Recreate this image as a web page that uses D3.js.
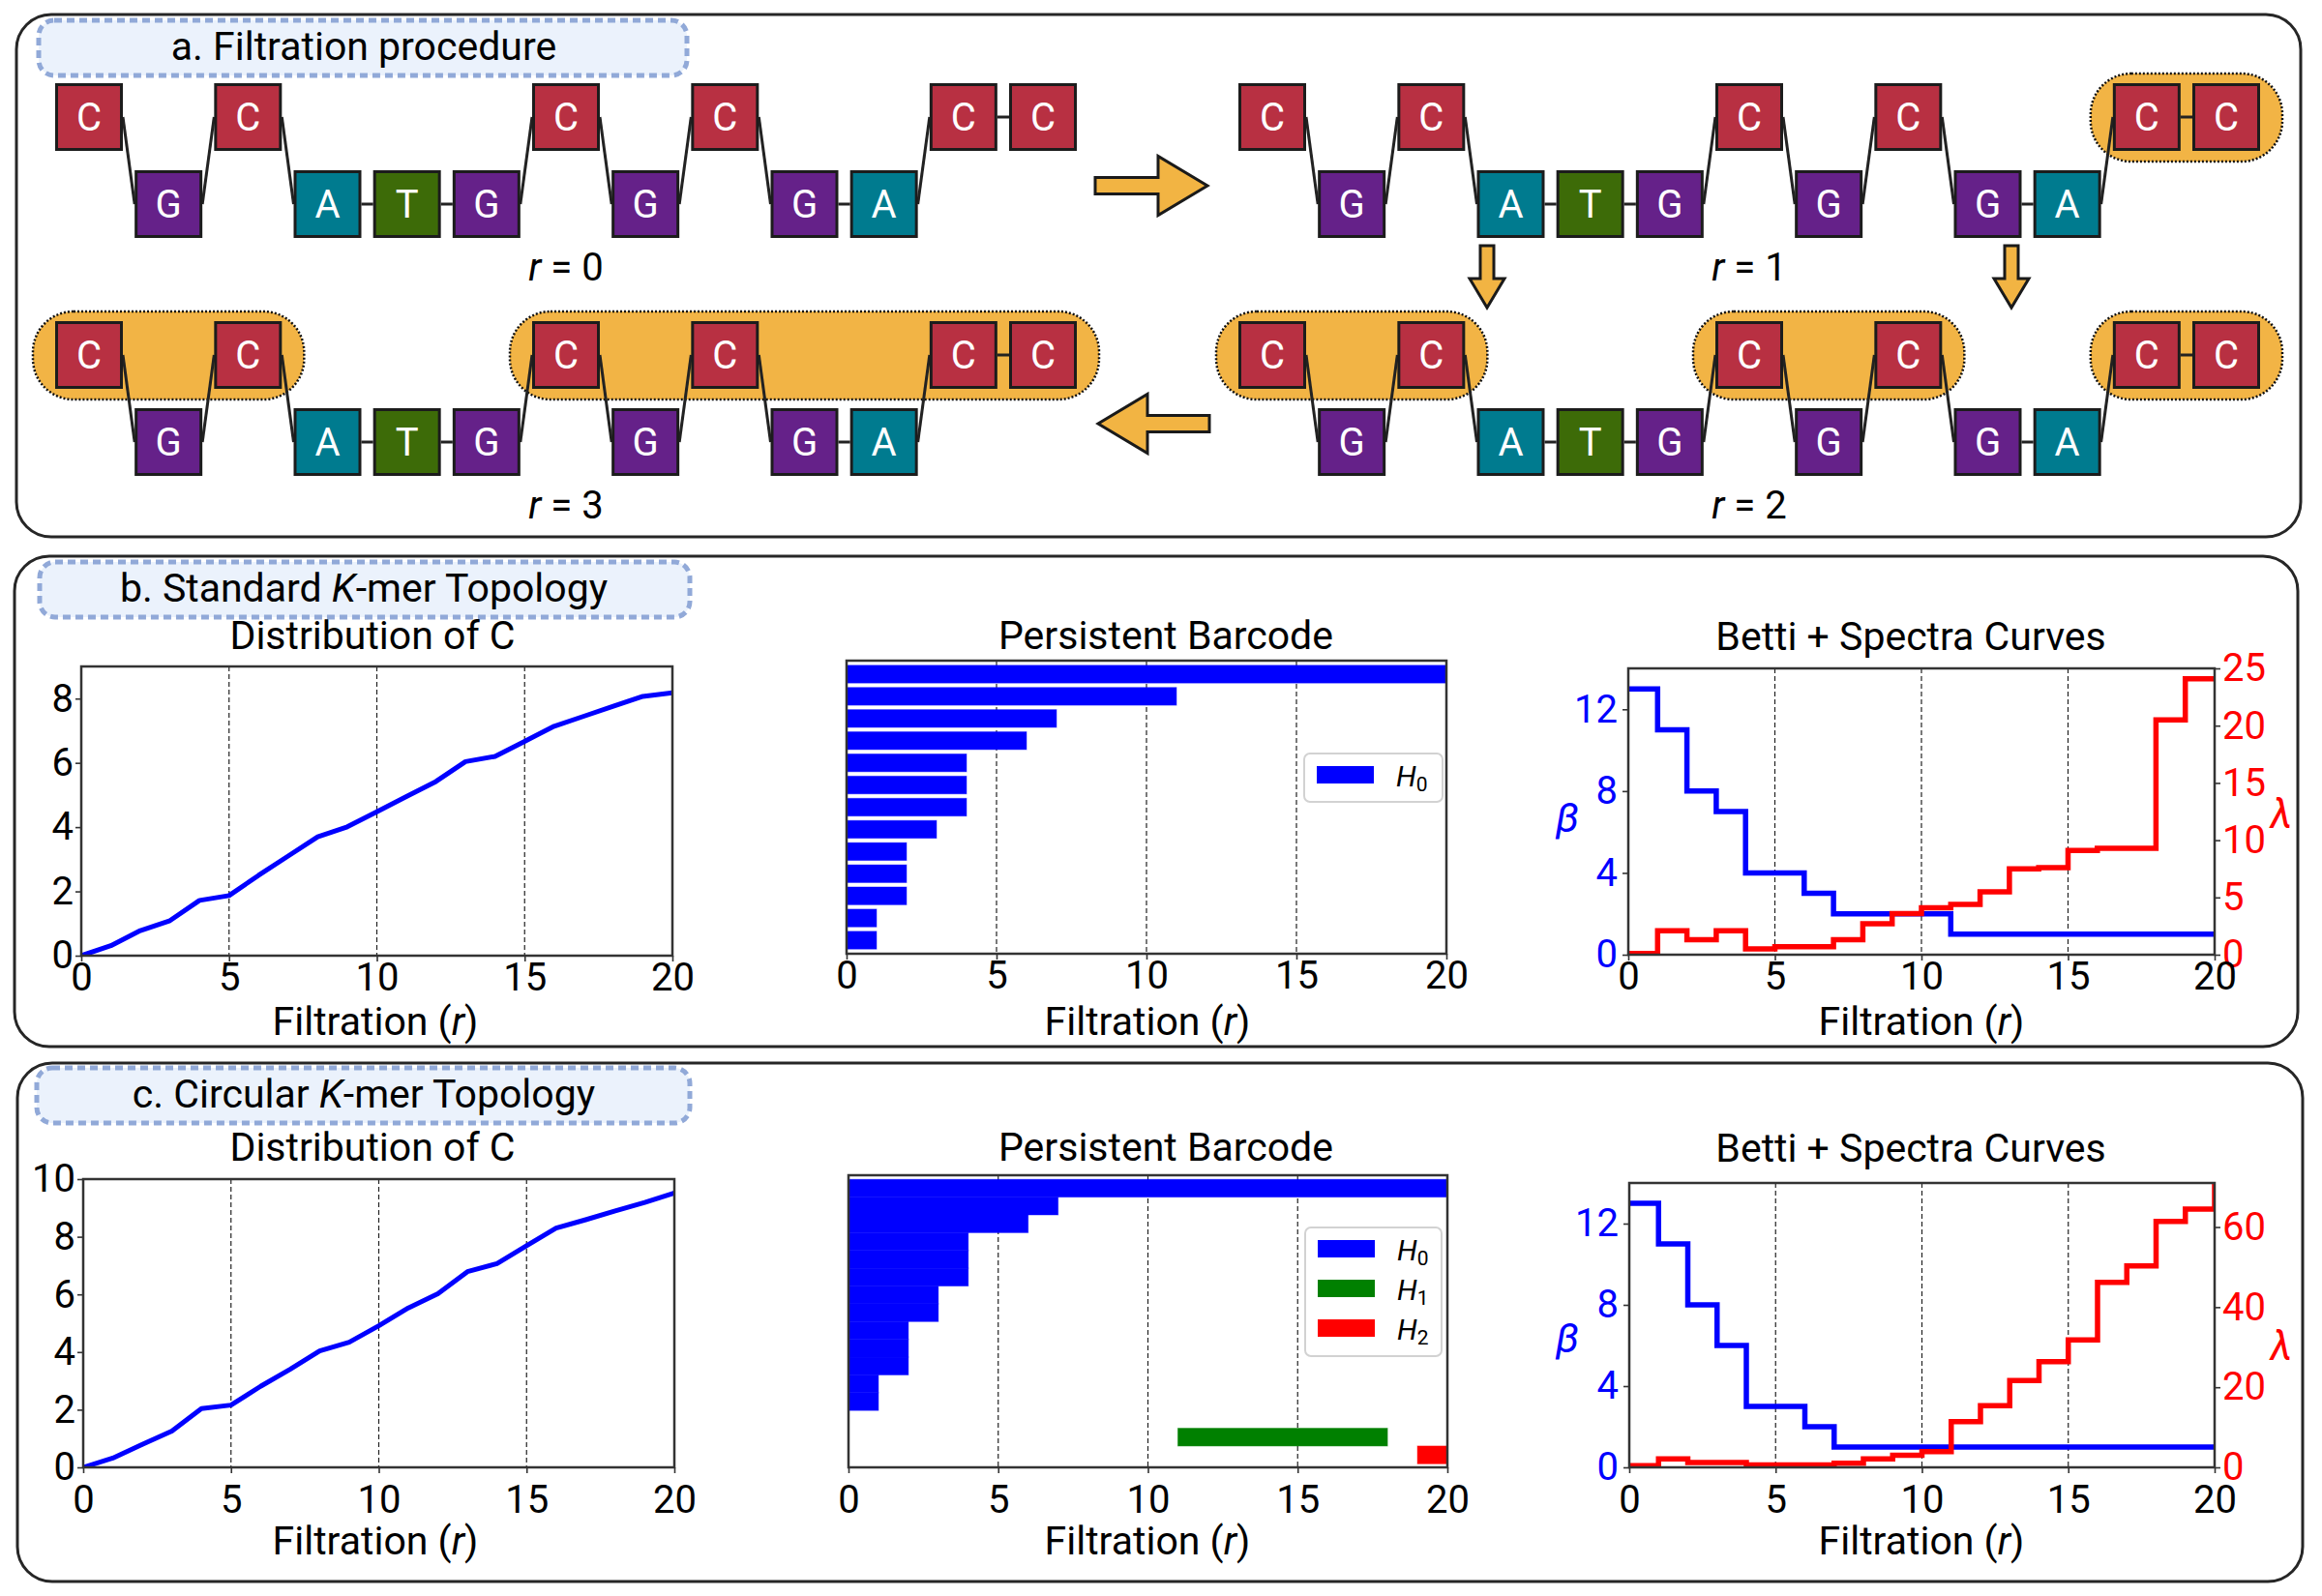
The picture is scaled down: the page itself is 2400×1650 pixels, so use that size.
<!DOCTYPE html>
<html>
<head>
<meta charset="utf-8">
<script src="https://cdn.jsdelivr.net/npm/d3@7"></script>
<style>
  body { margin: 0; background: #fff; }
  text { font-family: Roboto, "Noto Sans", sans-serif; }
</style>
</head>
<body>
<svg id="fig" width="2400" height="1650" viewBox="0 0 2400 1650"></svg>
<script>
// ---- data ----
const sequence = ["C", "G", "C", "A", "T", "G", "C", "G", "C", "G", "A", "C", "C"];
const baseColors = {C: "#b83042", G: "#652189", A: "#007b8f", T: "#3d6b08"};
const stageR = [0, 1, 2, 3];
// merged C-groups (first, last index in sequence) at each filtration step
const stageClusters = [[], [[11, 12]], [[0, 2], [6, 8], [11, 12]], [[0, 2], [6, 12]]];

const filtration = [0, 1, 2, 3, 4, 5, 6, 7, 8, 9, 10, 11, 12, 13, 14, 15, 16, 17, 18, 19, 20];
const xTicks = [0, 5, 10, 15, 20];

const distStandard = [0, 0.31, 0.78, 1.09, 1.72, 1.87, 2.5, 3.1, 3.7, 4.01, 4.48, 4.95, 5.42, 6.04, 6.2, 6.67, 7.14, 7.45, 7.76, 8.07, 8.18];
const distCircular = [0, 0.32, 0.8, 1.26, 2.04, 2.16, 2.81, 3.4, 4.04, 4.34, 4.91, 5.53, 6.02, 6.79, 7.07, 7.69, 8.3, 8.59, 8.9, 9.19, 9.52];

// barcode rows: [dimension, birth, death]; null = empty row
const barcodeStandard = [[0, 0, 20], [0, 0, 11], [0, 0, 7], [0, 0, 6], [0, 0, 4], [0, 0, 4], [0, 0, 4],
  [0, 0, 3], [0, 0, 2], [0, 0, 2], [0, 0, 2], [0, 0, 1], [0, 0, 1]];
const barcodeCircular = [[0, 0, 20], [0, 0, 7], [0, 0, 6], [0, 0, 4], [0, 0, 4], [0, 0, 4], [0, 0, 3],
  [0, 0, 3], [0, 0, 2], [0, 0, 2], [0, 0, 2], [0, 0, 1], [0, 0, 1], null, [1, 11, 18], [2, 19, 20]];
const dimColors = ["#0000ff", "#008000", "#ff0000"];

const bettiStandard = [13, 11, 8, 7, 4, 4, 3, 2, 2, 2, 2, 1, 1, 1, 1, 1, 1, 1, 1, 1, 1];
const spectraStandard = [0.1, 2.1, 1.3, 2.1, 0.5, 0.7, 0.7, 1.3, 2.7, 3.6, 4.1, 4.4, 5.5, 7.5, 7.6, 9.1, 9.3, 9.3, 20.5, 24.1, 24.1];
const bettiCircular = [13, 11, 8, 6, 3, 3, 2, 1, 1, 1, 1, 1, 1, 1, 1, 1, 1, 1, 1, 1, 1];
const spectraCircular = [0.4, 2.1, 1.2, 1.2, 0.6, 0.6, 0.6, 1.0, 2.1, 3.0, 3.9, 11.4, 15.4, 21.7, 26.4, 31.8, 46.2, 50.3, 61.4, 64.5, 71];

// ---- drawing ----
const svg = d3.select("#fig");
const defs = svg.append("defs");

function panel(x, y, w, h, box, titleParts, baseline) {
  svg.append("rect").attr("x", x).attr("y", y).attr("width", w).attr("height", h)
    .attr("rx", 36).attr("fill", "none").attr("stroke", "#262626").attr("stroke-width", 3);
  svg.append("rect").attr("x", box[0]).attr("y", box[1]).attr("width", box[2]).attr("height", box[3])
    .attr("rx", 16).attr("fill", "#ebf2fc").attr("stroke", "#91a9d8")
    .attr("stroke-width", 5).attr("stroke-dasharray", "8,5");
  const t = svg.append("text").attr("x", 376).attr("y", baseline)
    .attr("text-anchor", "middle").attr("font-size", 41);
  titleParts.forEach(p => t.append("tspan").attr("font-style", p[1] ? "italic" : "normal").text(p[0]));
}

panel(17, 15, 2361, 540, [40, 21, 670, 57], [["a. Filtration procedure", false]], 62);
panel(15, 575, 2360, 507, [41, 581, 672, 57], [["b. Standard ", false], ["K", true], ["-mer Topology", false]], 622);
panel(18, 1099, 2362, 536, [38, 1104, 675, 57], [["c. Circular ", false], ["K", true], ["-mer Topology", false]], 1145);

// ---- panel a: filtration procedure ----
const blockSize = 70;
const posX = d3.scalePoint().domain(d3.range(sequence.length)).range([57, 1043]);
const rowY = b => b === "C" ? 86 : 176;
const stageOffset = [[0, 0], [1223, 0], [1223, 246], [0, 246]];

stageR.forEach((r, s) => {
  const [dx, dy] = stageOffset[s];
  const g = svg.append("g").attr("transform", `translate(${dx},${dy})`);

  g.selectAll("rect.pill").data(stageClusters[s]).enter().append("rect")
    .attr("x", d => posX(d[0]) - 23)
    .attr("y", 76)
    .attr("width", d => posX(d[1]) - posX(d[0]) + blockSize + 46)
    .attr("height", 91)
    .attr("rx", 42)
    .attr("fill", "#f2b445").attr("stroke", "#111").attr("stroke-width", 2.5)
    .attr("stroke-dasharray", "2,2");

  const links = d3.range(sequence.length - 1);
  g.selectAll("line.link").data(links).enter().append("line")
    .attr("x1", i => posX(i) + blockSize).attr("y1", i => rowY(sequence[i]) + blockSize / 2)
    .attr("x2", i => posX(i + 1)).attr("y2", i => rowY(sequence[i + 1]) + blockSize / 2)
    .attr("stroke", "#222").attr("stroke-width", 3);

  const blk = g.selectAll("g.blk").data(sequence).enter().append("g")
    .attr("transform", (b, i) => `translate(${posX(i)},${rowY(b)})`);
  blk.append("rect").attr("x", 1.5).attr("y", 1.5).attr("width", blockSize - 3).attr("height", blockSize - 3)
    .attr("fill", b => baseColors[b]).attr("stroke", "#1c1c1c").attr("stroke-width", 3);
  blk.append("text").attr("x", blockSize / 2).attr("y", blockSize / 2).attr("dy", "0.36em")
    .attr("text-anchor", "middle").attr("font-size", 40).attr("fill", "#fff").text(b => b);

  const lab = g.append("text").attr("x", posX(6) + blockSize / 2).attr("y", 290)
    .attr("text-anchor", "middle").attr("font-size", 40);
  lab.append("tspan").attr("font-style", "italic").text("r");
  lab.append("tspan").text(" = " + r);
});

function arrow(x, y, angle, L, sw, hl, hw) {
  const p = `M0,${-sw}L${L - hl},${-sw}L${L - hl},${-hw}L${L},0L${L - hl},${hw}L${L - hl},${sw}L0,${sw}Z`;
  svg.append("path").attr("d", p).attr("transform", `translate(${x},${y}) rotate(${angle})`)
    .attr("fill", "#f2b443").attr("stroke", "#1a1a1a").attr("stroke-width", 3);
}
arrow(1132, 192, 0, 116, 8.5, 51, 30.5);
arrow(1250, 438, 180, 115, 8.5, 51, 30.5);
arrow(1537, 254, 90, 64, 7, 30, 18);
arrow(2079, 254, 90, 64, 7, 30, 18);

// ---- chart helpers ----
const cols = [385, 1205, 1975];
const xLabelCols = [388, 1186, 1986];

function frameAndGrid(g, f, x, clipId) {
  g.selectAll("line.grid").data([5, 10, 15]).enter().append("line")
    .attr("x1", d => x(d)).attr("x2", d => x(d)).attr("y1", f.y).attr("y2", f.y + f.h)
    .attr("stroke", "#222").attr("stroke-width", 1.2).attr("stroke-dasharray", "5,3");
  defs.append("clipPath").attr("id", clipId).append("rect")
    .attr("x", f.x).attr("y", f.y).attr("width", f.w).attr("height", f.h);
}

function frameBorder(g, f) {
  g.append("rect").attr("x", f.x).attr("y", f.y).attr("width", f.w).attr("height", f.h)
    .attr("fill", "none").attr("stroke", "#333").attr("stroke-width", 2.5);
}

function styleAxis(a, color) {
  a.attr("font-size", 40).attr("font-family", "Roboto, sans-serif");
  a.select(".domain").remove();
  a.selectAll("line").attr("stroke", "#333").attr("stroke-width", 1.6);
  a.selectAll("text").attr("fill", color);
}

function xAxisAndLabels(g, f, x, col, titleY, xLabelY, pad, title) {
  g.append("g").attr("transform", `translate(0,${f.y + f.h})`)
    .call(d3.axisBottom(x).tickValues(xTicks).tickSize(6).tickPadding(pad))
    .call(a => styleAxis(a, "#000"));
  g.append("text").attr("x", cols[col]).attr("y", titleY).attr("text-anchor", "middle")
    .attr("font-size", 41).text(title);
  const xl = g.append("text").attr("x", xLabelCols[col]).attr("y", xLabelY).attr("text-anchor", "middle")
    .attr("font-size", 41);
  xl.append("tspan").text("Filtration (");
  xl.append("tspan").attr("font-style", "italic").text("r");
  xl.append("tspan").text(")");
}

function distChart(f, values, yMax, yTicks, id, titleY, xLabelY, pad) {
  const g = svg.append("g");
  const x = d3.scaleLinear().domain([0, 20]).range([f.x, f.x + f.w]);
  const y = d3.scaleLinear().domain([0, yMax]).range([f.y + f.h, f.y]);
  frameAndGrid(g, f, x, id);
  g.append("path").datum(filtration)
    .attr("d", d3.line().x(d => x(d)).y((d, i) => y(values[i])))
    .attr("fill", "none").attr("stroke", "#0000ff").attr("stroke-width", 5)
    .attr("stroke-linejoin", "round").attr("clip-path", `url(#${id})`);
  frameBorder(g, f);
  g.append("g").attr("transform", `translate(${f.x},0)`)
    .call(d3.axisLeft(y).tickValues(yTicks).tickSize(6).tickPadding(2))
    .call(a => styleAxis(a, "#000"));
  xAxisAndLabels(g, f, x, 0, titleY, xLabelY, pad, "Distribution of C");
}

function barcodeChart(f, rows, rowH, yDomain, id, titleY, xLabelY, pad, legend) {
  const g = svg.append("g");
  const x = d3.scaleLinear().domain([0, 20]).range([f.x, f.x + f.w]);
  const y = d3.scaleLinear().domain(yDomain).range([f.y, f.y + f.h]);
  frameAndGrid(g, f, x, id);
  const bars = rows.map((r, i) => r ? {dim: r[0], birth: r[1], death: r[2], row: i} : null).filter(d => d);
  g.selectAll("rect.bar").data(bars).enter().append("rect")
    .attr("x", d => x(d.birth)).attr("width", d => x(d.death) - x(d.birth))
    .attr("y", d => y(d.row - rowH / 2)).attr("height", d => y(d.row + rowH / 2) - y(d.row - rowH / 2))
    .attr("fill", d => dimColors[d.dim]).attr("stroke", d => dimColors[d.dim])
    .attr("stroke-opacity", 0.45).attr("stroke-width", 1)
    .attr("clip-path", `url(#${id})`);
  frameBorder(g, f);
  xAxisAndLabels(g, f, x, 1, titleY, xLabelY, pad, "Persistent Barcode");

  const lg = g.append("g");
  lg.append("rect").attr("x", legend.x).attr("y", legend.y).attr("width", legend.w).attr("height", legend.h)
    .attr("rx", 6).attr("fill", "#fff").attr("stroke", "#d2d2d2").attr("stroke-width", 2);
  const dims = Array.from(new Set(bars.map(d => d.dim)));
  dims.forEach((d, k) => {
    const sy = legend.y + 13 + k * 41;
    lg.append("rect").attr("x", legend.x + 13).attr("y", sy).attr("width", 59).attr("height", 18)
      .attr("fill", dimColors[d]);
    const t = lg.append("text").attr("x", legend.x + 95).attr("y", sy + 21)
      .attr("font-family", "'Liberation Serif', 'DejaVu Serif', serif").attr("font-size", 30);
    t.append("tspan").attr("font-style", "italic").text("H");
    t.append("tspan").attr("font-size", 21).attr("dy", 5).text(d);
  });
}

function bettiChart(f, betti, spectra, lamMax, lamTicks, id, titleY, xLabelY, pad, betaY, lamY) {
  const g = svg.append("g");
  const x = d3.scaleLinear().domain([0, 20]).range([f.x, f.x + f.w]);
  const yB = d3.scaleLinear().domain([0, 14]).range([f.y + f.h, f.y]);
  const yL = d3.scaleLinear().domain([0, lamMax]).range([f.y + f.h, f.y]);
  frameAndGrid(g, f, x, id);
  g.append("path").datum(filtration)
    .attr("d", d3.line().curve(d3.curveStepAfter).x(d => x(d)).y((d, i) => yB(betti[i])))
    .attr("fill", "none").attr("stroke", "#0000ff").attr("stroke-width", 5.5)
    .attr("clip-path", `url(#${id})`);
  g.append("path").datum(filtration)
    .attr("d", d3.line().curve(d3.curveStepAfter).x(d => x(d)).y((d, i) => yL(spectra[i])))
    .attr("fill", "none").attr("stroke", "#ff0000").attr("stroke-width", 5.5)
    .attr("clip-path", `url(#${id})`);
  frameBorder(g, f);
  g.append("g").attr("transform", `translate(${f.x},0)`)
    .call(d3.axisLeft(yB).tickValues([0, 4, 8, 12]).tickSize(6).tickPadding(5))
    .call(a => styleAxis(a, "#0000ff"));
  g.append("g").attr("transform", `translate(${f.x + f.w},0)`)
    .call(d3.axisRight(yL).tickValues(lamTicks).tickSize(6).tickPadding(2))
    .call(a => styleAxis(a, "#ff0000"));
  g.append("text").attr("x", 1620).attr("y", betaY).attr("text-anchor", "middle").attr("dy", "0.35em")
    .attr("font-size", 42).attr("font-style", "italic").attr("fill", "#0000ff").text("β");
  g.append("text").attr("x", 2358).attr("y", lamY).attr("text-anchor", "middle").attr("dy", "0.35em")
    .attr("font-size", 42).attr("font-style", "italic").attr("fill", "#ff0000").text("λ");
  xAxisAndLabels(g, f, x, 2, titleY, xLabelY, pad, "Betti + Spectra Curves");
}

// ---- panel b ----
distChart({x: 84, y: 689, w: 611, h: 299}, distStandard, 9, [0, 2, 4, 6, 8], "cb1", 671, 1070, 2);
barcodeChart({x: 875, y: 683, w: 620, h: 303}, barcodeStandard, 0.8, [-0.61, 12.61], "cb2", 671, 1070, 2,
  {x: 1348, y: 779, w: 143, h: 50});
bettiChart({x: 1683, y: 691, w: 606, h: 296}, bettiStandard, spectraStandard, 25, [0, 5, 10, 15, 20, 25],
  "cb3", 672, 1070, 2, 845, 841);

// ---- panel c ----
distChart({x: 86, y: 1219, w: 611, h: 298}, distCircular, 10, [0, 2, 4, 6, 8, 10], "cc1", 1200, 1607, 13);
barcodeChart({x: 877, y: 1215, w: 619, h: 302}, barcodeCircular, 1.0, [-0.73, 15.7], "cc2", 1200, 1607, 13,
  {x: 1349, y: 1269, w: 141, h: 133});
bettiChart({x: 1684, y: 1223, w: 605, h: 294}, bettiCircular, spectraCircular, 71, [0, 20, 40, 60],
  "cc3", 1201, 1607, 13, 1383, 1391);
</script>
</body>
</html>
